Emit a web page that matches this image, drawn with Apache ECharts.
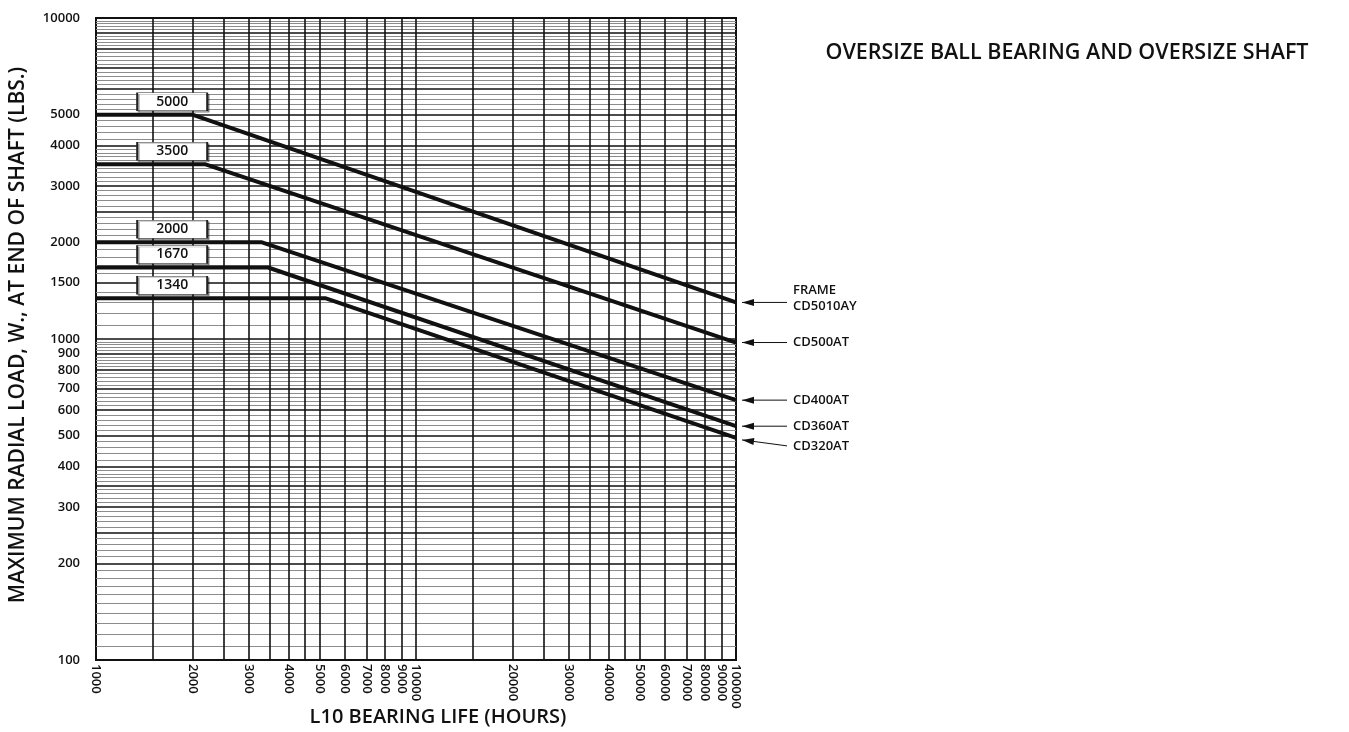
<!DOCTYPE html>
<html>
<head>
<meta charset="utf-8">
<script src="https://cdn.jsdelivr.net/npm/echarts@6/dist/echarts.min.js"></script>
<style>
  html, body { margin: 0; padding: 0; background: #fff; }
  #main { width: 1349px; height: 732px; }
</style>
</head>
<body>
<div id="main"></div>
<script>
// frame sizes, one line each
const frames = ['CD5010AY', 'CD500AT', 'CD400AT', 'CD360AT', 'CD320AT'];
const flatLoads = [5000, 3500, 2000, 1670, 1340];   // load on the flat part (lbs)
const kneeHours = [2000, 2200, 3300, 3450, 5200];   // where the line starts falling
const endLoads = [1300, 975, 645, 535, 492];        // load at 100000 h
const startHours = 1000;
const endHours = 100000;

// tick labels
const xTickLabels = [1000, 2000, 3000, 4000, 5000, 6000, 7000, 8000, 9000, 10000,
  20000, 30000, 40000, 50000, 60000, 70000, 80000, 90000, 100000];
const yTickLabels = [10000, 5000, 4000, 3000, 2000, 1500, 1000, 900, 800, 700, 600, 500, 400, 300, 200, 100];

// chart paper lines
const xGridLines = [1500, 2000, 2500, 3000, 3500, 4000, 4500, 5000, 6000, 7000, 8000, 9000, 10000,
  15000, 20000, 25000, 30000, 35000, 40000, 45000, 50000, 60000, 70000, 80000, 90000];
const yGridMajor = [9000, 8000, 7000, 6000, 5000, 4000, 3500, 3000, 2500, 2000, 1500, 1000,
  900, 800, 700, 600, 500, 400, 350, 300, 250, 200];
const yMinorSteps = [[100, 400, 10], [400, 1000, 20], [1000, 4000, 100], [4000, 10000, 200]];

const FONT = 'Open Sans';
const WEIGHT = 600;
const INK = '#111';

const yGridMinor = [];
yMinorSteps.forEach(([a, b, s]) => {
  for (let v = a + s; v < b; v += s) {
    if (yGridMajor.indexOf(v) < 0) yGridMinor.push(v);
  }
});

const gridMarks = []
  .concat(yGridMinor.map(v => ({ yAxis: v, lineStyle: { color: '#8c8c8c', width: 1, type: 'solid' } })))
  .concat(yGridMajor.map(v => ({ yAxis: v, lineStyle: { color: INK, width: 1.6, type: 'solid' } })))
  .concat(xGridLines.map(v => ({ xAxis: v, lineStyle: { color: INK, width: 1.6, type: 'solid' } })));

const lineSeries = frames.map((f, i) => ({
  name: f,
  type: 'line',
  symbol: 'none',
  z: 5,
  lineStyle: { color: INK, width: 4 },
  data: [[startHours, flatLoads[i]], [kneeHours[i], flatLoads[i]], [endHours, endLoads[i]]],
  markPoint: {
    symbol: 'rect',
    symbolSize: [70, 18],
    symbolOffset: [0, -13],
    silent: true,
    itemStyle: {
      color: '#fff', borderColor: '#222', borderWidth: 1,
      shadowColor: 'rgba(0,0,0,0.35)', shadowOffsetX: 1.5, shadowOffsetY: 1.5
    },
    label: {
      show: true, position: 'inside', color: INK,
      fontFamily: FONT, fontWeight: WEIGHT, fontSize: 14, formatter: '{c}'
    },
    data: [{ coord: [1730, flatLoads[i]], value: flatLoads[i] }]
  }
}));

const chart = echarts.init(document.getElementById('main'));

chart.setOption({
  animation: false,
  backgroundColor: '#fff',
  title: {
    text: 'OVERSIZE BALL BEARING AND OVERSIZE SHAFT',
    left: 1062, top: 37, textAlign: 'center',
    textStyle: { fontFamily: FONT, fontSize: 21.5, fontWeight: WEIGHT, color: INK }
  },
  grid: {
    left: 96, top: 18, width: 640, height: 642,
    containLabel: false, outerBoundsMode: 'none',
    show: true, borderColor: INK, borderWidth: 2, backgroundColor: 'transparent'
  },
  xAxis: {
    type: 'log', logBase: 10, min: startHours, max: endHours,
    name: 'L10 BEARING LIFE (HOURS)',
    nameLocation: 'middle', nameGap: 47, nameMoveOverlap: false,
    nameTextStyle: { fontFamily: FONT, fontSize: 20, fontWeight: WEIGHT, color: INK, padding: [0, 0, 0, 44] },
    axisLine: { show: false },
    axisTick: { show: false },
    splitLine: { show: false },
    axisLabel: {
      customValues: xTickLabels,
      rotate: -90, margin: 4,
      fontFamily: FONT, fontWeight: WEIGHT, fontSize: 13, color: INK,
      formatter: v => String(Math.round(v))
    }
  },
  yAxis: {
    type: 'log', logBase: 10, min: 100, max: 10000,
    name: 'MAXIMUM RADIAL LOAD, W., AT END OF SHAFT (LBS.)',
    nameLocation: 'middle', nameGap: 67,
    nameTextStyle: { fontFamily: FONT, fontSize: 21, fontWeight: WEIGHT, color: INK, padding: [0, 0, 0, 8] },
    axisLine: { show: false },
    axisTick: { show: false },
    splitLine: { show: false },
    axisLabel: {
      customValues: yTickLabels,
      margin: 16,
      fontFamily: FONT, fontWeight: WEIGHT, fontSize: 13, color: INK,
      formatter: v => String(Math.round(v))
    }
  },
  series: [{
    name: 'paper',
    type: 'line',
    data: [],
    z: 1,
    markLine: {
      silent: true,
      symbol: ['none', 'none'],
      label: { show: false },
      data: gridMarks
    }
  }].concat(lineSeries)
});

// frame callouts to the right of the line ends
const tipDy = [0, 0, 0, 0, 2];
const tailDy = [0, 0, 0, 0, 8];
const textDy = [-4, 0, 0, 0, 8];
const callouts = [];
frames.forEach((f, i) => {
  const p = chart.convertToPixel({ gridIndex: 0 }, [endHours, endLoads[i]]);
  const tx = p[0] + 6, ty = p[1] + tipDy[i];
  const sx = p[0] + 51, sy = p[1] + tailDy[i];
  const len = Math.hypot(sx - tx, sy - ty);
  const ux = (sx - tx) / len, uy = (sy - ty) / len;
  callouts.push({
    type: 'line', silent: true,
    shape: { x1: tx, y1: ty, x2: sx, y2: sy },
    style: { stroke: INK, lineWidth: 1 }
  });
  callouts.push({
    type: 'polygon', silent: true,
    shape: { points: [[tx, ty], [tx + 12 * ux - 3.5 * uy, ty + 12 * uy + 3.5 * ux], [tx + 12 * ux + 3.5 * uy, ty + 12 * uy - 3.5 * ux]] },
    style: { fill: INK }
  });
  callouts.push({
    type: 'text', silent: true,
    x: p[0] + 57, y: p[1] + textDy[i],
    style: {
      text: i === 0 ? 'FRAME\n' + f : f,
      fill: INK, font: WEIGHT + ' 13px "' + FONT + '"', lineHeight: 16,
      verticalAlign: 'middle', align: 'left'
    }
  });
});
chart.setOption({ graphic: callouts });
</script>
</body>
</html>
